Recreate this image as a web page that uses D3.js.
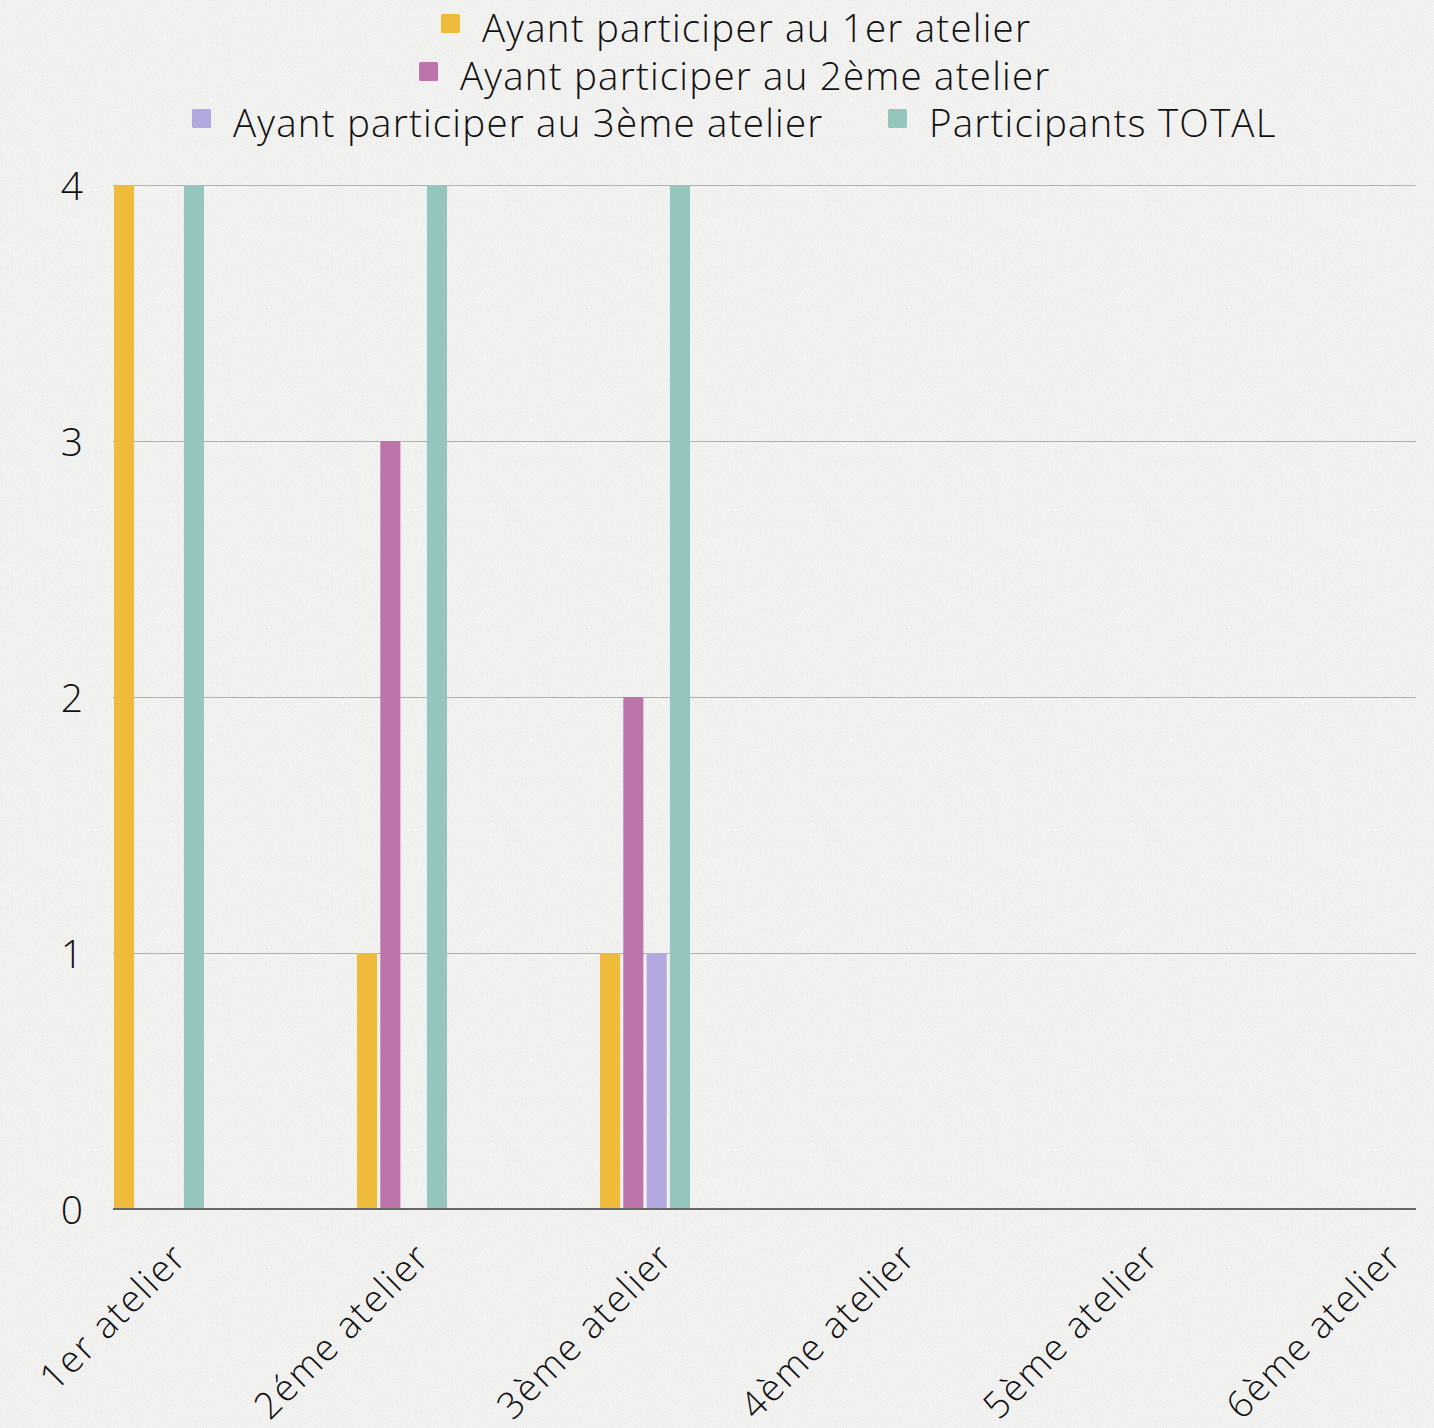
<!DOCTYPE html>
<html><head><meta charset="utf-8">
<script src="https://cdn.jsdelivr.net/npm/d3@7"></script>
<style>
html,body{margin:0;padding:0;background:#f1f1f0;}
svg{display:block;}
text{font-family:"Open Sans",sans-serif;font-weight:300;fill:#111;}
</style></head><body>
<script>
const categories = ["1er atelier","2éme atelier","3ème atelier","4ème atelier","5ème atelier","6ème atelier"];
const seriesNames = ["Ayant participer au 1er atelier","Ayant participer au 2ème atelier","Ayant participer au 3ème atelier","Participants TOTAL"];
const atelier1 = [4,1,1,0,0,0];
const atelier2 = [0,3,2,0,0,0];
const atelier3 = [0,0,1,0,0,0];
const total    = [4,4,4,0,0,0];
const yTicks = [0,1,2,3,4];
const colors = ["#efbb3a","#bd74aa","#b3a8dd","#95c6bd"];

const W=1434,H=1428;
const FONT="'Open Sans',sans-serif";
const svg=d3.select("body").append("svg").attr("width",W).attr("height",H);

// subtle stone texture
const defs=svg.append("defs");
const f=defs.append("filter").attr("id","noise").attr("x",0).attr("y",0).attr("width","100%").attr("height","100%");
f.append("feTurbulence").attr("type","fractalNoise").attr("baseFrequency","0.8").attr("numOctaves",2).attr("seed",3).attr("result","t");
f.append("feColorMatrix").attr("in","t").attr("type","matrix")
 .attr("values","0 0 0 0 0.6  0 0 0 0 0.6  0 0 0 0 0.62  0 0 0 -2 1.05");
f.append("feComposite").attr("in2","SourceGraphic").attr("operator","in");
svg.append("rect").attr("width",W).attr("height",H).attr("fill","#f2f2f1");
svg.append("rect").attr("width",W).attr("height",H).attr("fill","#f2f2f1").attr("filter","url(#noise)").attr("opacity",0.3);

const plotL=113, plotR=1416, plotT=185, plotB=1209;
const step=243;
const x0=d3.scaleBand().domain(categories).range([114,114+step*categories.length]).paddingInner(0).paddingOuter(0);
const x1=d3.scaleBand().domain(d3.range(4)).range([0,90]).paddingInner(0.14);
const y=d3.scaleLinear().domain([0,4]).range([plotB,plotT]);

// grid
const grid=svg.append("g").attr("transform",`translate(${plotL},0)`)
 .call(d3.axisLeft(y).tickValues(yTicks).tickSize(-(plotR-plotL)).tickFormat(""));
grid.select(".domain").remove();
grid.selectAll(".tick line").attr("stroke","#b0b0b0").attr("stroke-width",1.2);

// bars
const data=[atelier1,atelier2,atelier3,total];
const groups=svg.append("g").selectAll("g").data(categories).join("g")
 .attr("transform",d=>`translate(${x0(d)},0)`);
groups.selectAll("rect").data((d,i)=>data.map((s,k)=>({k,v:s[i]}))).join("rect")
 .filter(d=>d.v>0)
 .attr("x",d=>x1(d.k)).attr("width",x1.bandwidth())
 .attr("y",d=>y(d.v)).attr("height",d=>y(0)-y(d.v))
 .attr("fill",d=>colors[d.k]).attr("rx",1);

// baseline
svg.append("line").attr("x1",plotL).attr("x2",plotR).attr("y1",y(0)).attr("y2",y(0))
 .attr("stroke","#666").attr("stroke-width",2);

// y labels
const ya=svg.append("g").attr("transform",`translate(83,0)`)
 .call(d3.axisLeft(y).tickValues(yTicks).tickSize(0).tickPadding(0).tickFormat(d3.format("d")));
ya.select(".domain").remove();
ya.selectAll("text").attr("font-size",39).attr("dy","0.36em").style("font-family",FONT).style("font-weight",300).attr("fill","#111");

// x labels
const xa=svg.append("g").attr("transform",`translate(0,${plotB})`)
 .call(d3.axisBottom(x0).tickSize(0).tickPadding(0));
xa.select(".domain").remove();
xa.selectAll(".tick").attr("transform",d=>`translate(${x0(d)+75},50)`);
xa.selectAll("text").attr("font-size",37).attr("text-anchor","end").attr("dy",0).attr("y",0)
 .attr("letter-spacing","1.8px")
 .attr("transform","rotate(-45)").style("font-family",FONT).style("font-weight",300).attr("fill","#111");

// legend
const legendRows=[
 [{i:0,sx:441,tx:482}],
 [{i:1,sx:419,tx:460}],
 [{i:2,sx:192,tx:233},{i:3,sx:888,tx:929}]
];
const rowBase=[42,90,137];
const lg=svg.append("g");
legendRows.forEach((row,r)=>{
  row.forEach(it=>{
    lg.append("rect").attr("x",it.sx).attr("y",rowBase[r]-28).attr("width",19).attr("height",19).attr("rx",1.5).attr("fill",colors[it.i]);
    lg.append("text").attr("x",it.tx).attr("y",rowBase[r]).attr("font-size",38.5).attr("letter-spacing","1.2px").text(seriesNames[it.i]);
  });
});
</script>
</body></html>
